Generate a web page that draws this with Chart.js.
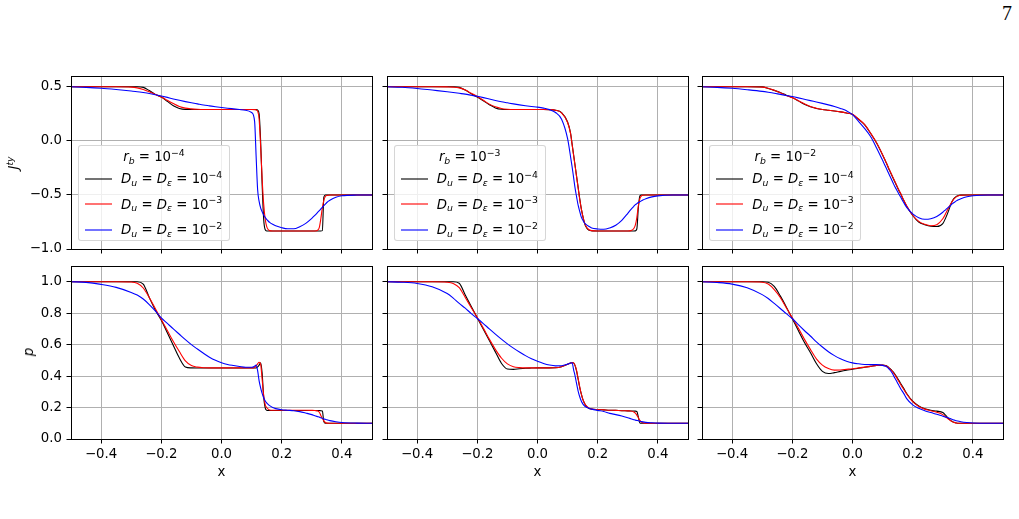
<!DOCTYPE html>
<html>
<head>
<meta charset="utf-8">
<script src="https://cdn.jsdelivr.net/npm/chart.js@4.4.1/dist/chart.umd.min.js"></script>
<style>
html,body{margin:0;padding:0;background:#fff;}
body{width:1019px;height:519px;position:relative;overflow:hidden;font-family:'DejaVu Sans',sans-serif;color:#000;}
canvas{position:absolute;}
.leg{position:absolute;box-sizing:border-box;border:1px solid rgba(204,204,204,0.8);border-radius:3px;background:rgba(255,255,255,0.8);width:152px;height:96px;top:145px;z-index:5;font-size:13.3px;}
.leg .t{position:absolute;left:0;right:0;text-align:center;line-height:16px;white-space:nowrap;}
.leg svg{position:absolute;left:6px;overflow:visible;}
.leg .l{position:absolute;left:42px;line-height:16px;white-space:nowrap;}
sub,sup{font-size:70%;line-height:0;position:relative;vertical-align:baseline;}
sub{top:0.32em;}
sup{top:-0.55em;}
.yl{position:absolute;transform:translate(-50%,-50%) rotate(-90deg);white-space:nowrap;font-size:13.3px;line-height:16px;z-index:5;}
.pg{position:absolute;left:1002px;top:3px;font-family:'Liberation Serif',serif;font-size:20px;line-height:20px;}
</style>
</head>
<body>
<div class="pg">7</div>
<script>
// ---------- data ----------
const X = [-0.5, -0.45, -0.4, -0.35, -0.3, -0.28, -0.26, -0.24, -0.22, -0.2,
  -0.18, -0.16, -0.14, -0.12, -0.1, -0.08, -0.06, -0.04, -0.02, 0,
  0.02, 0.04, 0.06, 0.08, 0.1, 0.11, 0.115, 0.12, 0.125, 0.13,
  0.135, 0.14, 0.145, 0.15, 0.155, 0.16, 0.17, 0.18, 0.2, 0.22,
  0.24, 0.26, 0.28, 0.3, 0.31, 0.32, 0.325, 0.33, 0.335, 0.34,
  0.345, 0.35, 0.36, 0.38, 0.4, 0.45, 0.5];

// J^ty, r_b = 1e-4
const J1_D4 = [0.5, 0.5, 0.5, 0.5, 0.5, 0.5, 0.495, 0.465, 0.43, 0.405,
  0.365, 0.325, 0.3, 0.291, 0.29, 0.29, 0.29, 0.29, 0.29, 0.29,
  0.29, 0.29, 0.29, 0.29, 0.29, 0.29, 0.289, 0.285, 0.25, 0.0,
  -0.4, -0.72, -0.82, -0.833, -0.833, -0.833, -0.833, -0.833, -0.833, -0.833,
  -0.833, -0.833, -0.833, -0.833, -0.833, -0.833, -0.833, -0.833, -0.83, -0.52,
  -0.5, -0.5, -0.5, -0.5, -0.5, -0.5, -0.5];
const J1_D3 = [0.5, 0.5, 0.5, 0.5, 0.497, 0.49, 0.476, 0.455, 0.43, 0.405,
  0.375, 0.345, 0.318, 0.303, 0.296, 0.292, 0.29, 0.29, 0.29, 0.29,
  0.29, 0.29, 0.29, 0.29, 0.29, 0.289, 0.287, 0.275, 0.2, -0.05,
  -0.35, -0.58, -0.72, -0.79, -0.82, -0.83, -0.833, -0.833, -0.833, -0.833,
  -0.833, -0.833, -0.833, -0.833, -0.833, -0.825, -0.8, -0.72, -0.62, -0.55,
  -0.515, -0.505, -0.5, -0.5, -0.5, -0.5, -0.5];
const J1_D2 = [0.5, 0.495, 0.487, 0.475, 0.461, 0.455, 0.447, 0.438, 0.427, 0.415,
  0.402, 0.388, 0.375, 0.363, 0.352, 0.342, 0.332, 0.324, 0.316, 0.309,
  0.302, 0.296, 0.29, 0.283, 0.262, 0.18, -0.14, -0.45, -0.56, -0.62,
  -0.655, -0.686, -0.707, -0.726, -0.741, -0.754, -0.772, -0.785, -0.803, -0.813,
  -0.813, -0.794, -0.763, -0.717, -0.69, -0.66, -0.645, -0.63, -0.615, -0.6,
  -0.585, -0.57, -0.55, -0.522, -0.508, -0.501, -0.5];

// J^ty, r_b = 1e-3
const J2_D4 = [0.5, 0.5, 0.5, 0.5, 0.5, 0.5, 0.495, 0.47, 0.435, 0.405,
  0.37, 0.335, 0.305, 0.292, 0.29, 0.29, 0.29, 0.29, 0.29, 0.29,
  0.29, 0.289, 0.283, 0.262, 0.175, 0.07, -0.03, -0.13, -0.23, -0.33,
  -0.43, -0.53, -0.62, -0.69, -0.75, -0.79, -0.825, -0.832, -0.833, -0.833,
  -0.833, -0.833, -0.833, -0.833, -0.833, -0.833, -0.832, -0.815, -0.62, -0.51,
  -0.5, -0.5, -0.5, -0.5, -0.5, -0.5, -0.5];
const J2_D3 = [0.5, 0.5, 0.5, 0.5, 0.499, 0.497, 0.49, 0.47, 0.44, 0.41,
  0.375, 0.34, 0.315, 0.3, 0.293, 0.29, 0.29, 0.29, 0.29, 0.29,
  0.29, 0.289, 0.283, 0.26, 0.17, 0.065, -0.035, -0.135, -0.235, -0.335,
  -0.435, -0.535, -0.62, -0.69, -0.745, -0.785, -0.82, -0.83, -0.833, -0.833,
  -0.833, -0.833, -0.833, -0.833, -0.83, -0.81, -0.78, -0.71, -0.6, -0.535,
  -0.51, -0.503, -0.5, -0.5, -0.5, -0.5, -0.5];
const J2_D2 = [0.5, 0.496, 0.485, 0.47, 0.455, 0.448, 0.44, 0.432, 0.422, 0.412,
  0.4, 0.387, 0.374, 0.362, 0.352, 0.342, 0.333, 0.325, 0.318, 0.312,
  0.303, 0.289, 0.262, 0.2, 0.02, -0.15, -0.24, -0.34, -0.44, -0.52,
  -0.595, -0.65, -0.7, -0.73, -0.755, -0.77, -0.79, -0.805, -0.815, -0.818,
  -0.805, -0.78, -0.735, -0.67, -0.635, -0.605, -0.59, -0.58, -0.57, -0.562,
  -0.555, -0.547, -0.535, -0.518, -0.509, -0.501, -0.5];

// J^ty, r_b = 1e-2
const J3_D4 = [0.5, 0.5, 0.5, 0.5, 0.499, 0.485, 0.467, 0.447, 0.423, 0.4,
  0.37, 0.338, 0.315, 0.3, 0.29, 0.283, 0.276, 0.268, 0.258, 0.245,
  0.2, 0.15, 0.07, -0.02, -0.13, -0.19, -0.22, -0.255, -0.285, -0.315,
  -0.345, -0.375, -0.405, -0.435, -0.465, -0.49, -0.55, -0.605, -0.69, -0.75,
  -0.775, -0.79, -0.792, -0.765, -0.71, -0.64, -0.6, -0.565, -0.54, -0.525,
  -0.513, -0.507, -0.502, -0.5, -0.5, -0.5, -0.5];
const J3_D3 = [0.5, 0.5, 0.5, 0.5, 0.497, 0.487, 0.468, 0.445, 0.42, 0.4,
  0.372, 0.343, 0.318, 0.302, 0.29, 0.283, 0.276, 0.268, 0.258, 0.246,
  0.202, 0.152, 0.072, -0.018, -0.128, -0.188, -0.218, -0.25, -0.28, -0.31,
  -0.34, -0.37, -0.4, -0.43, -0.46, -0.487, -0.547, -0.6, -0.688, -0.745,
  -0.772, -0.785, -0.775, -0.72, -0.67, -0.615, -0.59, -0.565, -0.545, -0.53,
  -0.518, -0.51, -0.503, -0.5, -0.5, -0.5, -0.5];
const J3_D2 = [0.5, 0.495, 0.486, 0.473, 0.458, 0.45, 0.441, 0.43, 0.42, 0.41,
  0.398, 0.385, 0.372, 0.36, 0.347, 0.333, 0.318, 0.3, 0.278, 0.243,
  0.18, 0.115, 0.04, -0.065, -0.18, -0.24, -0.27, -0.3, -0.33, -0.36,
  -0.39, -0.42, -0.445, -0.47, -0.495, -0.52, -0.57, -0.615, -0.675, -0.71,
  -0.725, -0.72, -0.7, -0.66, -0.635, -0.61, -0.6, -0.585, -0.575, -0.565,
  -0.555, -0.547, -0.535, -0.517, -0.507, -0.5, -0.5];

// p, r_b = 1e-4
const P1_D4 = [1, 1, 1, 1, 1, 1, 0.985, 0.9, 0.82, 0.755,
  0.675, 0.595, 0.515, 0.458, 0.452, 0.451, 0.451, 0.451, 0.451, 0.451,
  0.451, 0.451, 0.451, 0.451, 0.451, 0.451, 0.452, 0.458, 0.47, 0.485,
  0.42, 0.27, 0.2, 0.183, 0.181, 0.181, 0.181, 0.181, 0.181, 0.181,
  0.181, 0.181, 0.181, 0.181, 0.181, 0.181, 0.181, 0.18, 0.178, 0.11,
  0.1, 0.1, 0.1, 0.1, 0.1, 0.1, 0.1];
const P1_D3 = [1, 1, 1, 1, 0.998, 0.99, 0.96, 0.9, 0.83, 0.76,
  0.69, 0.62, 0.556, 0.497, 0.467, 0.457, 0.453, 0.452, 0.452, 0.452,
  0.452, 0.452, 0.452, 0.452, 0.452, 0.455, 0.465, 0.478, 0.488, 0.475,
  0.38, 0.28, 0.22, 0.2, 0.19, 0.185, 0.183, 0.183, 0.183, 0.183,
  0.183, 0.183, 0.183, 0.182, 0.181, 0.178, 0.17, 0.15, 0.13, 0.115,
  0.105, 0.101, 0.1, 0.1, 0.1, 0.1, 0.1];
const P1_D2 = [1, 0.996, 0.983, 0.964, 0.932, 0.915, 0.89, 0.855, 0.815, 0.77,
  0.735, 0.7, 0.666, 0.632, 0.6, 0.572, 0.545, 0.52, 0.5, 0.485,
  0.474, 0.467, 0.461, 0.456, 0.456, 0.463, 0.47, 0.435, 0.37, 0.325,
  0.29, 0.262, 0.243, 0.23, 0.22, 0.212, 0.2, 0.193, 0.186, 0.183,
  0.18, 0.174, 0.165, 0.155, 0.148, 0.142, 0.139, 0.135, 0.132, 0.128,
  0.125, 0.122, 0.117, 0.11, 0.105, 0.101, 0.1];

// p, r_b = 1e-3
const P2_D4 = [1, 1, 1, 1, 1, 1, 0.99, 0.915, 0.842, 0.77,
  0.698, 0.626, 0.554, 0.482, 0.445, 0.443, 0.447, 0.45, 0.451, 0.452,
  0.452, 0.452, 0.453, 0.46, 0.475, 0.483, 0.486, 0.484, 0.465, 0.43,
  0.38, 0.33, 0.29, 0.255, 0.232, 0.214, 0.195, 0.19, 0.187, 0.185,
  0.183, 0.182, 0.18, 0.179, 0.178, 0.178, 0.177, 0.175, 0.14, 0.103,
  0.1, 0.1, 0.1, 0.1, 0.1, 0.1, 0.1];
const P2_D3 = [1, 1, 1, 1, 0.997, 0.989, 0.962, 0.9, 0.835, 0.772,
  0.705, 0.635, 0.57, 0.515, 0.478, 0.46, 0.454, 0.452, 0.452, 0.452,
  0.452, 0.452, 0.453, 0.46, 0.475, 0.483, 0.486, 0.484, 0.468, 0.435,
  0.385, 0.335, 0.29, 0.257, 0.232, 0.215, 0.198, 0.19, 0.187, 0.185,
  0.183, 0.182, 0.18, 0.179, 0.178, 0.172, 0.165, 0.152, 0.135, 0.118,
  0.108, 0.103, 0.1, 0.1, 0.1, 0.1, 0.1];
const P2_D2 = [1, 0.997, 0.989, 0.968, 0.925, 0.896, 0.862, 0.832, 0.797, 0.766,
  0.734, 0.7, 0.667, 0.635, 0.605, 0.578, 0.553, 0.53, 0.51, 0.494,
  0.48, 0.47, 0.465, 0.466, 0.476, 0.483, 0.484, 0.44, 0.4, 0.35,
  0.305, 0.27, 0.243, 0.225, 0.213, 0.205, 0.196, 0.19, 0.182, 0.175,
  0.163, 0.155, 0.146, 0.135, 0.129, 0.123, 0.12, 0.118, 0.116, 0.113,
  0.111, 0.109, 0.106, 0.103, 0.101, 0.1, 0.1];

// p, r_b = 1e-2
const P3_D4 = [1, 1, 1, 1, 1, 0.997, 0.97, 0.91, 0.84, 0.765,
  0.69, 0.615, 0.55, 0.48, 0.43, 0.416, 0.422, 0.43, 0.437, 0.443,
  0.45, 0.456, 0.462, 0.468, 0.47, 0.467, 0.463, 0.455, 0.447, 0.437,
  0.427, 0.415, 0.4, 0.385, 0.37, 0.353, 0.322, 0.289, 0.24, 0.21,
  0.192, 0.183, 0.177, 0.168, 0.15, 0.128, 0.12, 0.113, 0.108, 0.105,
  0.102, 0.1, 0.1, 0.1, 0.1, 0.1, 0.1];
const P3_D3 = [1, 1, 1, 1, 0.997, 0.985, 0.95, 0.9, 0.835, 0.77,
  0.705, 0.635, 0.57, 0.51, 0.47, 0.448, 0.438, 0.439, 0.443, 0.447,
  0.452, 0.457, 0.462, 0.468, 0.47, 0.466, 0.461, 0.453, 0.444, 0.434,
  0.423, 0.41, 0.395, 0.378, 0.362, 0.347, 0.316, 0.286, 0.237, 0.207,
  0.19, 0.18, 0.17, 0.155, 0.14, 0.125, 0.118, 0.112, 0.107, 0.104,
  0.102, 0.1, 0.1, 0.1, 0.1, 0.1, 0.1];
const P3_D2 = [1, 0.995, 0.985, 0.962, 0.918, 0.893, 0.862, 0.83, 0.797, 0.766,
  0.727, 0.69, 0.655, 0.618, 0.585, 0.555, 0.53, 0.51, 0.495, 0.484,
  0.478, 0.474, 0.473, 0.473, 0.468, 0.462, 0.457, 0.448, 0.437, 0.424,
  0.408, 0.39, 0.373, 0.355, 0.337, 0.32, 0.29, 0.257, 0.217, 0.195,
  0.18, 0.168, 0.157, 0.145, 0.139, 0.133, 0.13, 0.126, 0.122, 0.119,
  0.116, 0.114, 0.11, 0.105, 0.102, 0.1, 0.1];

const X_TICKS = [-0.4, -0.2, 0.0, 0.2, 0.4];
const J_TICKS = [-1.0, -0.5, 0.0, 0.5];
const P_TICKS = [0.0, 0.2, 0.4, 0.6, 0.8, 1.0];
const RB_EXP = ['−4', '−3', '−2'];
const D_EXP = ['−4', '−3', '−2'];
const COLORS = ['#000000', '#ff0000', '#0000ff'];

// ---------- layout ----------
const PLOT_LEFT = [71, 386.7, 702.3];
const PLOT_TOP = [76, 266];
const PLOT_W = 301, PLOT_H = 173;
const AX_W = 65, AX_H = 42, PAD_T = 14, PAD_R = 6;

Chart.defaults.font.family = "'DejaVu Sans'";
Chart.defaults.font.size = 13.3;
Chart.defaults.color = '#000';

const fmt = v => Number(v).toFixed(1).replace('-', '\u2212');

const framePlugin = {
  id: 'frame',
  afterDraw(chart) {
    const a = chart.chartArea, ctx = chart.ctx;
    ctx.save();
    ctx.strokeStyle = '#000';
    ctx.lineWidth = 1;
    ctx.strokeRect(Math.round(a.left) + 0.5, Math.round(a.top) + 0.5,
                   Math.round(a.right) - Math.round(a.left), Math.round(a.bottom) - Math.round(a.top));
    ctx.restore();
  }
};

const ROWS = [
  {series: [[J1_D4, J1_D3, J1_D2], [J2_D4, J2_D3, J2_D2], [J3_D4, J3_D3, J3_D2]], min: -1.0, max: 0.6, ticks: J_TICKS},
  {series: [[P1_D4, P1_D3, P1_D2], [P2_D4, P2_D3, P2_D2], [P3_D4, P3_D3, P3_D2]], min: 0.0, max: 1.1, ticks: P_TICKS}
];

ROWS.forEach((row, r) => {
  row.series.forEach((set, c) => {
    const cv = document.createElement('canvas');
    const w = AX_W + PLOT_W + PAD_R, h = PAD_T + PLOT_H + AX_H;
    cv.width = w; cv.height = h;
    cv.style.left = (PLOT_LEFT[c] - AX_W) + 'px';
    cv.style.top = (PLOT_TOP[r] - PAD_T) + 'px';
    cv.style.width = w + 'px'; cv.style.height = h + 'px';
    document.body.appendChild(cv);
    new Chart(cv, {
      type: 'line',
      data: {
        datasets: set.map((ys, i) => ({
          data: X.map((x, k) => ({x: x, y: ys[k]})),
          borderColor: COLORS[i],
          borderWidth: 1.1,
          pointRadius: 0,
          fill: false,
          cubicInterpolationMode: 'monotone',
          order: 3 - i
        }))
      },
      options: {
        responsive: false,
        animation: false,
        devicePixelRatio: 1,
        events: [],
        layout: {padding: {top: PAD_T, right: PAD_R, left: 0, bottom: 0}},
        plugins: {legend: {display: false}, tooltip: {enabled: false}},
        scales: {
          x: {
            type: 'linear', min: -0.5, max: 0.5,
            afterBuildTicks: s => { s.ticks = X_TICKS.map(v => ({value: v})); },
            afterFit: s => { s.height = AX_H; },
            ticks: {display: r === 1, padding: 3, maxRotation: 0, autoSkip: false, callback: fmt},
            grid: {color: '#b0b0b0', lineWidth: 1, drawTicks: true, tickLength: 4.5, tickColor: '#000', tickWidth: 1},
            border: {display: false},
            title: {display: r === 1, text: 'x', padding: {top: 0, bottom: 0}}
          },
          y: {
            type: 'linear', min: row.min, max: row.max,
            afterBuildTicks: s => { s.ticks = row.ticks.map(v => ({value: v})); },
            afterFit: s => { s.width = AX_W; },
            ticks: {display: c === 0, padding: 4.5, autoSkip: false, callback: fmt},
            grid: {color: '#b0b0b0', lineWidth: 1, drawTicks: true, tickLength: 4.5, tickColor: '#000', tickWidth: 1},
            border: {display: false}
          }
        }
      },
      plugins: [framePlugin]
    });

    if (r === 0) {
      const leg = document.createElement('div');
      leg.className = 'leg';
      leg.style.left = (PLOT_LEFT[c] + 7) + 'px';
      let html = '<div class="t" style="top:3px"><i>r</i><sub><i>b</i></sub> = 10<sup>' + RB_EXP[c] + '</sup></div>';
      const rowsY = [32.7, 58, 83.7];
      D_EXP.forEach((e, i) => {
        html += '<svg width="27" height="4" style="top:' + (rowsY[i] - 2) + 'px"><line x1="0" y1="2" x2="27" y2="2" stroke="' + COLORS[i] + '" stroke-width="1.1"/></svg>';
        html += '<div class="l" style="top:' + (rowsY[i] - 7.5) + 'px"><i>D</i><sub><i>u</i></sub> = <i>D</i><sub><i>\u03b5</i></sub> = 10<sup>' + e + '</sup></div>';
      });
      leg.innerHTML = html;
      document.body.appendChild(leg);
    }
  });
});

const yl1 = document.createElement('div');
yl1.className = 'yl'; yl1.style.left = '14px'; yl1.style.top = '163px';
yl1.innerHTML = '<i>J</i><sup><i>ty</i></sup>';
document.body.appendChild(yl1);
const yl2 = document.createElement('div');
yl2.className = 'yl'; yl2.style.left = '29px'; yl2.style.top = '352px';
yl2.innerHTML = '<i>p</i>';
document.body.appendChild(yl2);
</script>
</body>
</html>
